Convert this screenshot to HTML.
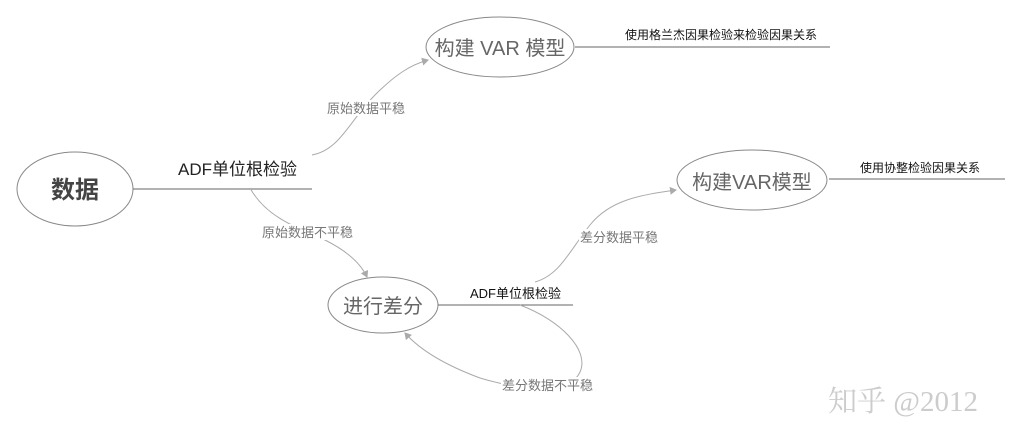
<!DOCTYPE html>
<html><head><meta charset="utf-8"><style>
body{margin:0;background:#fff;}
svg text{font-family:"Liberation Sans","Noto Sans CJK SC",sans-serif;}
</style></head><body>
<svg width="1017" height="441" viewBox="0 0 1017 441" xmlns="http://www.w3.org/2000/svg">
<defs><marker id="a" markerWidth="8" markerHeight="8" refX="6" refY="4" orient="auto" markerUnits="userSpaceOnUse"><path d="M0,0 L7,4 L0,8 Z" fill="#aaa"/></marker></defs>
<g fill="none" stroke="#888" stroke-width="1">
<ellipse cx="75" cy="189" rx="58" ry="37"/>
<ellipse cx="500" cy="47" rx="74" ry="30"/>
<ellipse cx="383" cy="305" rx="55" ry="28"/>
<ellipse cx="752" cy="180" rx="75" ry="30"/>
<line x1="133" y1="189" x2="312" y2="189" stroke="#666"/>
<line x1="575" y1="47" x2="830" y2="47" stroke="#666"/>
<line x1="438" y1="305" x2="573" y2="305" stroke="#666"/>
<line x1="829" y1="179" x2="1005" y2="179" stroke="#666"/>
</g>
<g fill="none" stroke="#aaa" stroke-width="1">
<path d="M312,155 C340,150 350,120 375,95 C395,75 410,65 428,60" marker-end="url(#a)"/>
<path d="M250,188 C265,215 290,225 325,240 C345,250 360,262 367,277" marker-end="url(#a)"/>
<path d="M535,282 C560,275 570,250 590,225 C610,200 640,195 676,190" marker-end="url(#a)"/>
<path d="M520,305 C560,320 590,350 580,372 C570,395 520,390 480,378 C445,365 420,350 405,333" marker-end="url(#a)"/>
</g>
<text x="75" y="198" font-size="24" font-weight="bold" fill="#444" text-anchor="middle">数据</text>
<text x="178" y="175" font-size="17" fill="#222">ADF单位根检验</text>
<text x="500" y="55" font-size="20" fill="#666" text-anchor="middle">构建 VAR 模型</text>
<text x="625" y="39" font-size="12" fill="#111">使用格兰杰因果检验来检验因果关系</text>
<rect x="326" y="100" width="80" height="16" fill="#fff"/>
<text x="327" y="113" font-size="13" fill="#777">原始数据平稳</text>
<rect x="261" y="224" width="92" height="16" fill="#fff"/>
<text x="262" y="237" font-size="13" fill="#777">原始数据不平稳</text>
<text x="383" y="313" font-size="20" fill="#666" text-anchor="middle">进行差分</text>
<text x="470" y="298" font-size="13" fill="#111">ADF单位根检验</text>
<text x="752" y="189" font-size="20" fill="#666" text-anchor="middle">构建VAR模型</text>
<text x="860" y="172" font-size="12" fill="#111">使用协整检验因果关系</text>
<rect x="579" y="229" width="82" height="16" fill="#fff"/>
<text x="580" y="242" font-size="13" fill="#777">差分数据平稳</text>
<rect x="501" y="377" width="94" height="16" fill="#fff"/>
<text x="502" y="390" font-size="13" fill="#777">差分数据不平稳</text>
<text x="828" y="411" font-size="29" fill="#ccc" style="font-family:'Liberation Serif','Noto Serif CJK SC',serif">知乎 @2012</text>
</svg>
</body></html>
